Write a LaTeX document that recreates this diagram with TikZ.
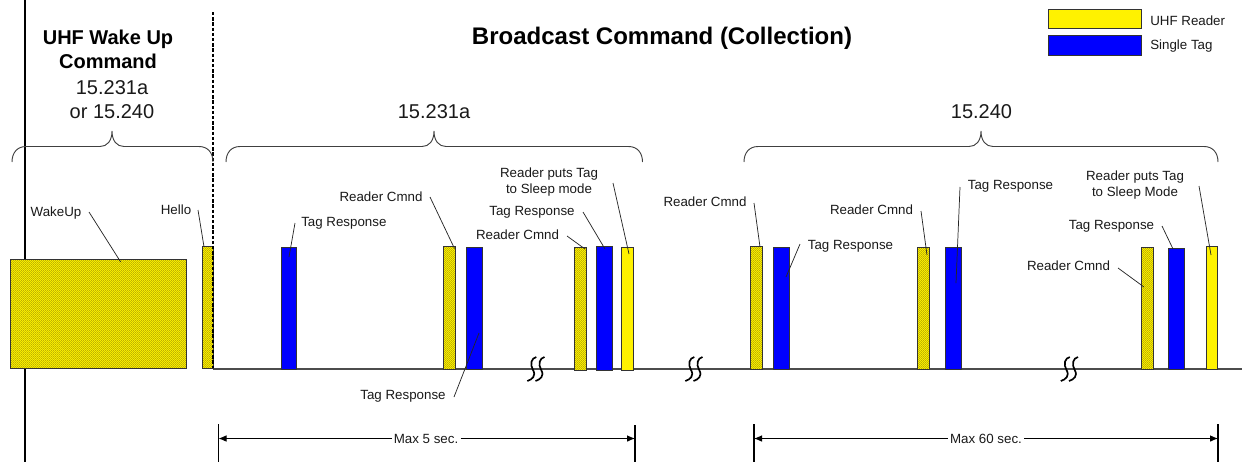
\documentclass[tikz,border=0pt]{standalone}
\usepackage{fontspec}
\setmainfont{Liberation Sans}
\usetikzlibrary{arrows.meta,patterns.meta}
\definecolor{hatch}{HTML}{6E6400}
\tikzset{
  x=0.75pt,y=-0.75pt,
  solidbar/.style={anchor=north west,inner sep=0pt,outer sep=0pt,draw=black!80,line width=0.7pt},
  reader/.style={solidbar,fill=yellow},
  tagbar/.style={solidbar,fill=blue},
  hatched/.style={solidbar,preaction={fill=yellow},pattern={Lines[angle=45,distance=1.0607pt,line width=0.17pt]},pattern color=hatch},
  lbl/.style={font=\fontsize{10}{12}\selectfont,text=black!90,inner sep=0pt,align=center},
  bigl/.style={font=\fontsize{15}{18}\selectfont,text=black!90,inner sep=0pt,align=center},
  bighead/.style={font=\fontsize{15}{18}\bfseries\selectfont,inner sep=0pt,align=center},
  titl/.style={font=\fontsize{18}{22}\bfseries\selectfont,inner sep=0pt},
  leader/.style={draw=black!85,line width=0.55pt},
  bracket/.style={draw=black!75,line width=0.7pt},
  dimline/.style={draw=black,line width=0.7pt,-{Latex[length=6pt,width=5pt]}},
  ticker/.style={draw=black,line width=0.8pt},
  brk/.style={draw=black,line width=1.25pt},
}
\newcommand{\tbar}[6]{\node[#6,minimum width={(#4-#2)*0.75pt},minimum height={(#5-#3)*0.75pt}] (#1) at (#2,#3) {};}
\newcommand{\leadl}[5]{\coordinate (#1a) at (#2,#3); \coordinate (#1b) at (#4,#5); \draw[leader] (#1a) -- (#1b);}
\newcommand{\cbrace}[3]{\draw[bracket] (#1,162) .. controls (#1,153) and (#1+5,146.5) .. (#1+14,146.5) -- (#2-12,146.5) .. controls (#2-5,146.5) and (#2,141) .. (#2,131) .. controls (#2,141) and (#2+5,146.5) .. (#2+12,146.5) -- (#3-14,146.5) .. controls (#3-5,146.5) and (#3,153) .. (#3,162);}
\newcommand{\sstroke}[1]{\draw[brk] (#1-8.7,381) .. controls (#1-4,379.5) and (#1+0.5,376) .. (#1-3,370) .. controls (#1-6.5,364) and (#1-4.5,358) .. (#1+0.3,357);}
\newcommand{\tstroke}[1]{\draw[brk] (#1-0.5,381) .. controls (#1+4.2,379.5) and (#1+8.7,376) .. (#1+5.2,370) .. controls (#1+1.7,364) and (#1+3.7,358) .. (#1+8.5,357);}
\begin{document}
\begin{tikzpicture}
\useasboundingbox (0,0) rectangle (1248,462);
% frame lines
\coordinate (axt) at (25,0); \coordinate (axb) at (25,462);
\draw[draw=black,line width=1.5pt] (axt) -- (axb);
\coordinate (base0) at (213,369); \coordinate (base1) at (1242,369);
\draw[draw=black!70,line width=0.8pt] (base0) -- (base1);
% bars
\tbar{wake}{10.5}{259}{186.5}{368.5}{hatched}
\tbar{hello}{202}{246.5}{213}{368.5}{hatched}
\tbar{t1}{281}{247}{296.5}{369}{tagbar}
\tbar{r1}{443.5}{246.5}{455.5}{369}{hatched}
\tbar{t2}{466.7}{247}{482.7}{369}{tagbar}
\tbar{r2}{574.3}{247}{586}{370}{hatched}
\tbar{t3}{596}{246.5}{612}{370}{tagbar}
\tbar{r3}{621.3}{247}{633}{370}{reader}
\tbar{r4}{750.7}{246.5}{762}{369}{hatched}
\tbar{t4}{773.3}{247}{789}{369}{tagbar}
\tbar{r5}{917.7}{247}{929}{369}{hatched}
\tbar{t5}{945.3}{247}{961}{369}{tagbar}
\tbar{r6}{1141.3}{247}{1153.7}{369}{hatched}
\tbar{t6}{1168.3}{248.5}{1184}{369}{tagbar}
\tbar{r7}{1206.3}{246.5}{1217.7}{369}{reader}
% dashed separator
\coordinate (dasht) at (213,12); \coordinate (dashb) at (213,368);
\draw[draw=black,line width=0.9pt,dash pattern=on 2.6pt off 1.3pt] (dasht) -- (dashb);
% breaks
\foreach \cx in {536,694,1069.5}{\sstroke{\cx}\tstroke{\cx}}
% braces
\cbrace{12}{112}{213}
\cbrace{226}{434}{642.5}
\cbrace{744}{981}{1218}
% headings
\node[bighead] (hwake) at (108,49) {UHF Wake Up\\Command};
\node[bigl] (h231a) at (112,88) {15.231a};
\node[bigl] (h240a) at (112,112) {or 15.240};
\node[titl] (hmain) at (662,38.5) {Broadcast Command (Collection)};
\node[bigl] (h231) at (434,112) {15.231a};
\node[bigl] (h240) at (981.5,112) {15.240};
% legend
\tbar{lr}{1048.7}{9}{1141.7}{28.7}{reader}
\tbar{lt}{1048.7}{35.7}{1141.7}{55.3}{tagbar}
\node[lbl,anchor=west] (lrt) at (1150,20.5) {UHF Reader};
\node[lbl,anchor=west] (ltt) at (1150,46.5) {Single Tag};
% labels
\node[lbl] (n1) at (56,213) {WakeUp};
\node[lbl] (n2) at (176,210) {Hello};
\node[lbl,anchor=west] (n3) at (301,223) {Tag Response};
\node[lbl] (n4) at (381,197) {Reader Cmnd};
\node[lbl] (n5) at (403,396) {Tag Response};
\node[lbl] (n6) at (517.5,235) {Reader Cmnd};
\node[lbl] (n7) at (532,212) {Tag Response};
\node[lbl] (n8) at (549,182) {Reader puts Tag\\to Sleep mode};
\node[lbl] (n9) at (705,202) {Reader Cmnd};
\node[lbl] (n10) at (850.5,246) {Tag Response};
\node[lbl] (n11) at (871.5,210) {Reader Cmnd};
\node[lbl] (n12) at (1010.5,186) {Tag Response};
\node[lbl] (n13) at (1135,185.5) {Reader puts Tag\\to Sleep Mode};
\node[lbl] (n14) at (1111.5,226) {Tag Response};
\node[lbl] (n15) at (1068.5,266) {Reader Cmnd};
% leaders
\leadl{a}{89}{212}{120.7}{262}
\leadl{b}{198}{210}{204}{246.7}
\leadl{c}{295}{223}{289}{257}
\leadl{d}{430}{197}{454.5}{248.5}
\leadl{e}{454}{397}{479}{333}
\leadl{f}{567}{236}{585}{249}
\leadl{g}{583}{212}{605}{249}
\leadl{h}{613}{183}{629}{254}
\leadl{i}{754}{203}{760}{247}
\leadl{j}{800}{244}{786}{277}
\leadl{k}{921}{211}{927}{255}
\leadl{l}{960}{187}{956}{283}
\leadl{m}{1199}{186}{1211}{255}
\leadl{n}{1162}{226}{1173}{249}
\leadl{o}{1118}{268}{1144}{287}
% dimensions
\coordinate (d1lt) at (218.5,424); \coordinate (d1lb) at (218.5,462);
\coordinate (d1rt) at (635,425); \coordinate (d1rb) at (635,462);
\coordinate (d2lt) at (754,424); \coordinate (d2lb) at (754,462);
\coordinate (d2rt) at (1218,424); \coordinate (d2rb) at (1218,462);
\coordinate (d1l) at (218.5,438.5); \coordinate (d1r) at (635,438.5);
\coordinate (d2l) at (754,438.5); \coordinate (d2r) at (1218,438.5);
\draw[ticker] (d1lt) -- (d1lb);
\draw[ticker,line width=1.1pt] (d1rt) -- (d1rb);
\draw[ticker] (d2lt) -- (d2lb);
\draw[ticker] (d2rt) -- (d2rb);
\node[lbl,inner sep=1.5pt] (m5) at (426,438.5) {Max 5 sec.};
\node[lbl,inner sep=1.5pt] (m60) at (986,438.5) {Max 60 sec.};
\draw[dimline] (m5.west) -- (d1l);
\draw[dimline] (m5.east) -- (d1r);
\draw[dimline] (m60.west) -- (d2l);
\draw[dimline] (m60.east) -- (d2r);
\end{tikzpicture}
\end{document}
